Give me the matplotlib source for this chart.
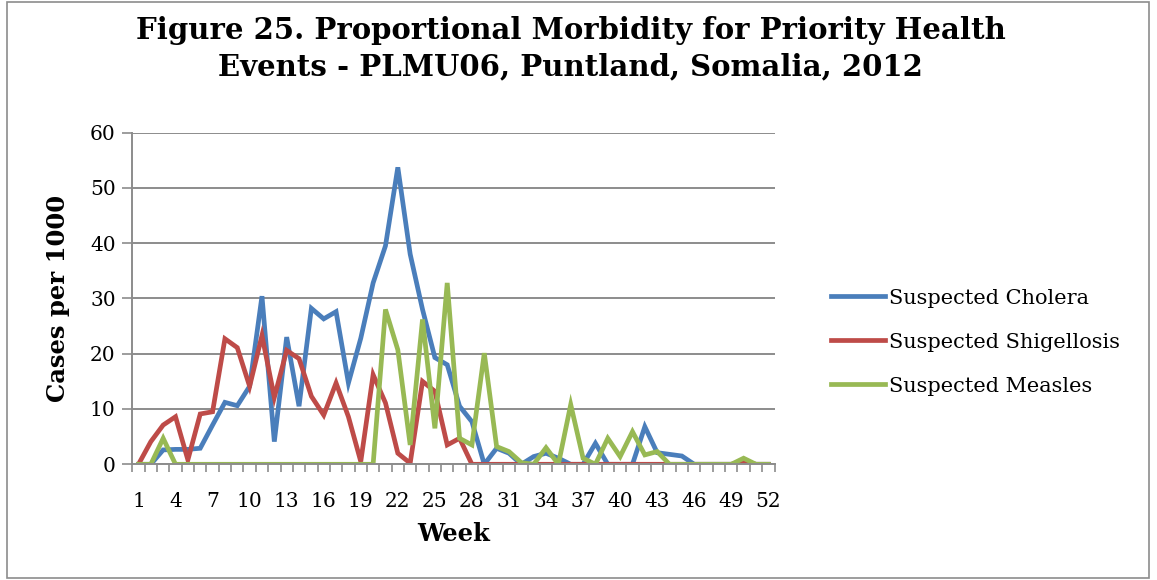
import matplotlib
matplotlib.use("Agg")
import matplotlib.pyplot as plt
from matplotlib.patches import Rectangle

weeks = list(range(1, 53))
cholera = [0, 0, 2.6, 2.7, 2.7, 2.9, 7.1, 11.2, 10.6, 14.1,
           30.4, 4.1, 23.0, 10.5, 28.2, 26.3, 27.6, 14.7, 22.8, 32.8,
           39.5, 53.7, 38.0, 28.0, 19.3, 18.0, 10.5, 7.7, 0, 2.9,
           2.0, 0, 1.4, 2.0, 1.1, 0, 0, 3.8, 0, 0,
           0, 6.8, 2.1, 1.8, 1.5, 0, 0, 0, 0, 0,
           0, 0]
shigellosis = [0, 4.1, 7.1, 8.6, 0.8, 9.1, 9.5, 22.7, 21.1, 14.1,
               23.3, 12.1, 20.6, 19.1, 12.3, 8.9, 14.7, 8.6, 0.5, 16.2,
               11.1, 2.0, 0.2, 15.0, 13.2, 3.5, 4.7, 0, 0, 0,
               0, 0, 0, 0, 0, 0, 0, 0, 0, 0,
               0, 0, 0, 0, 0, 0, 0, 0, 0, 0.5,
               0, 0]
measles = [0, 0, 4.7, 0, 0, 0, 0, 0, 0, 0,
           0, 0, 0, 0, 0, 0, 0, 0, 0, 0,
           28.0, 20.7, 3.5, 26.2, 6.5, 32.8, 4.7, 3.5, 20.1, 3.2,
           2.3, 0.3, 0, 3.0, 0, 10.8, 1.1, 0, 4.7, 1.4,
           5.9, 1.7, 2.3, 0, 0, 0, 0, 0, 0, 1.1,
           0, 0]
series_names = ["Suspected Cholera", "Suspected Shigellosis", "Suspected Measles"]
colors = ["#4A7EBB", "#BE4B48", "#98B954"]
xtick_labels = [str(w) for w in range(1, 53, 3)]
yticks = [0, 10, 20, 30, 40, 50, 60]

plt.rcParams['font.family'] = ['DejaVu Serif']

fig = plt.figure(figsize=(11.57, 5.80), dpi=100)
ax = fig.add_axes([132.3 / 1157, 115.7 / 580, 642.2 / 1157, 331.8 / 580])

for data, name, c in zip([cholera, shigellosis, measles], series_names, colors):
    ax.plot(weeks, data, color=c, lw=3.4, label=name, solid_joinstyle='miter')

ax.set_xlim(0.5, 52.5)
ax.set_ylim(0, 60)
ax.set_yticks(yticks)
ax.set_yticklabels([str(v) for v in yticks], fontsize=14.5)
ax.yaxis.grid(True, color="#8C8C8C", lw=1.4)
ax.set_axisbelow(True)

ax.set_xticks(list(range(1, 53, 3)))
ax.set_xticklabels(xtick_labels, fontsize=14.5)
ax.set_xticks([w + 0.5 for w in range(0, 53)], minor=True)
ax.tick_params(axis='x', which='major', length=0, pad=20)
ax.tick_params(axis='x', which='minor', length=6, color="#8C8C8C", width=1.2, direction='out')
ax.tick_params(axis='y', length=7, color="#8C8C8C", width=1.2, pad=5)

for s in ['top', 'right']:
    ax.spines[s].set_visible(False)
ax.spines['left'].set_color("#8C8C8C")
ax.spines['left'].set_linewidth(1.4)
ax.spines['bottom'].set_color("#8C8C8C")
ax.spines['bottom'].set_linewidth(1.4)

ax.set_xlabel("Week", fontsize=17.5, fontweight='bold', labelpad=8)
ax.set_ylabel("Cases per 1000", fontsize=17.5, fontweight='bold', labelpad=14)

fig.text(0.493, 0.972, "Figure 25. Proportional Morbidity for Priority Health\nEvents - PLMU06, Puntland, Somalia, 2012",
         ha='center', va='top', fontsize=21, fontweight='bold', linespacing=1.3)

leg = fig.legend(loc='center left', bbox_to_anchor=(812 / 1157, 1 - 342 / 580), frameon=False,
                 fontsize=15, handlelength=2.6, labelspacing=1.2, handletextpad=0.2)

fig.patches.append(Rectangle((7 / 1157, 0.003), 1142 / 1157, 0.994, transform=fig.transFigure,
                             fill=False, edgecolor="#8C8C8C", lw=1.2))

fig.savefig("out.png", dpi=100)
